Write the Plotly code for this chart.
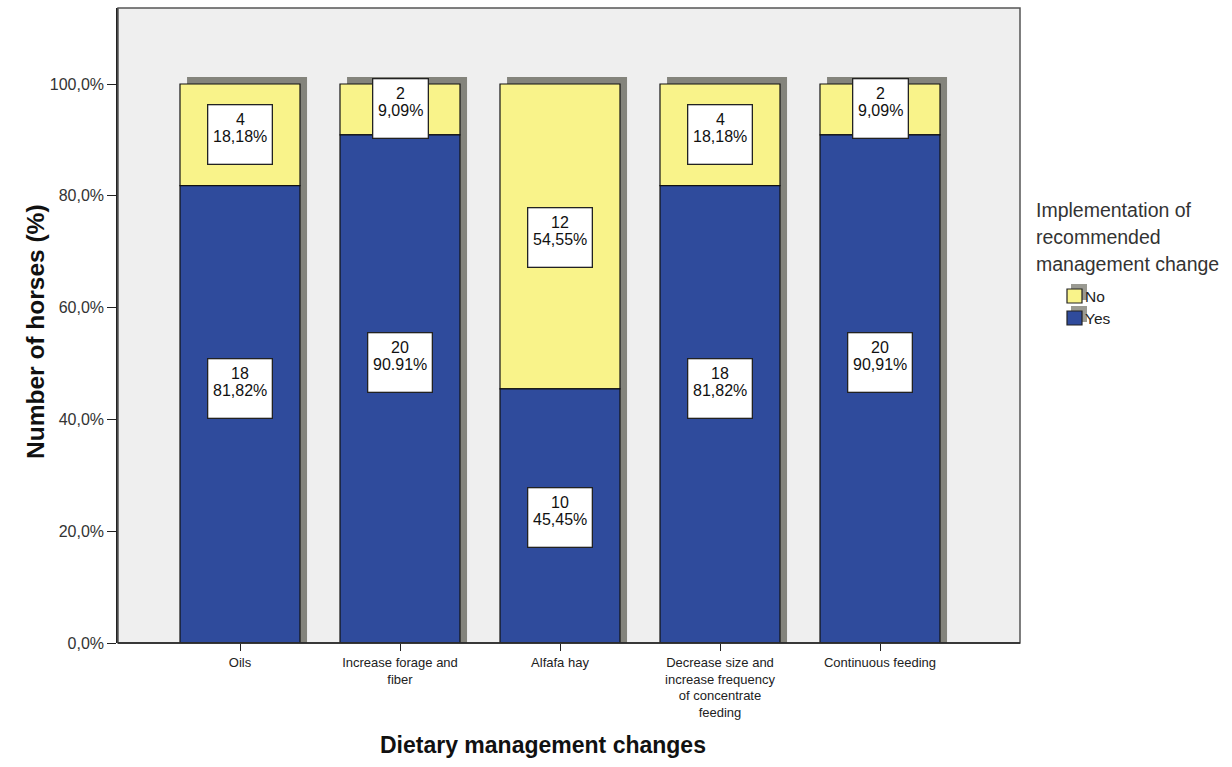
import plotly.graph_objects as go

categories = ["Oils", "Increase forage and<br>fiber", "Alfafa hay",
              "Decrease size and<br>increase frequency<br>of concentrate<br>feeding",
              "Continuous feeding"]
yes_counts = [18, 20, 10, 18, 20]
no_counts = [4, 2, 12, 4, 2]
yes_pct = [81.82, 90.91, 45.45, 81.82, 90.91]
no_pct = [18.18, 9.09, 54.55, 18.18, 9.09]
yes_pct_text = ["81,82%", "90.91%", "45,45%", "81,82%", "90,91%"]
no_pct_text = ["18,18%", "9,09%", "54,55%", "18,18%", "9,09%"]
y_ticks = [0, 20, 40, 60, 80, 100]
y_tick_labels = ["0,0%", "20,0%", "40,0%", "60,0%", "80,0%", "100,0%"]
legend_names = ["No", "Yes"]

# label box centre positions (percent), as placed in the original
yes_label_pos = [45.6, 50.1, 22.4, 45.6, 50.1]
no_label_pos = [90.9, 95.7, 72.6, 90.9, 95.7]

BLUE = "#2f4b9c"
YELLOW = "#f9f38a"
SHADOW = "#84847c"
FONT = "Liberation Sans, Arial, sans-serif"

# plot-area geometry in pixels (for paper-coordinate conversions)
L, R, T, B = 118, 1020, 8, 643
def px(xp):
    return (xp - L) / (R - L)
def py(yp):
    return (B - yp) / (B - T)

x_idx = list(range(len(categories)))
totals = [a + b for a, b in zip(yes_pct, no_pct)]

fig = go.Figure()
fig.add_trace(go.Bar(x=x_idx, y=[t + 1.25 for t in totals], base=0, width=0.75,
                     offset=-0.375 + 0.044, marker=dict(color=SHADOW, line=dict(width=0)),
                     showlegend=False, hoverinfo="skip"))
fig.add_trace(go.Bar(x=x_idx, y=no_pct, base=yes_pct, width=0.75, offset=-0.375, name="No",
                     showlegend=False,
                     marker=dict(color=YELLOW, line=dict(color="#111", width=1.2))))
fig.add_trace(go.Bar(x=x_idx, y=yes_pct, base=0, width=0.75, offset=-0.375, name="Yes",
                     showlegend=False,
                     marker=dict(color=BLUE, line=dict(color="#111", width=1.2))))

ann = []
for i in x_idx:
    for cnt, txt, pos in [(yes_counts[i], yes_pct_text[i], yes_label_pos[i]),
                          (no_counts[i], no_pct_text[i], no_label_pos[i])]:
        w = 54 if len(txt) <= 5 else 63
        ann.append(dict(x=i, y=pos, xref="x", yref="y", showarrow=False, text="&nbsp;",
                        bgcolor="white", bordercolor="#222", borderwidth=1.3, borderpad=0,
                        width=w, height=58))
        ann.append(dict(x=i, y=pos, xref="x", yref="y", showarrow=False, text=str(cnt),
                        yshift=15, font=dict(family=FONT, size=16, color="#111")))
        ann.append(dict(x=i, y=pos, xref="x", yref="y", showarrow=False, text=txt,
                        yshift=-2, font=dict(family=FONT, size=16, color="#111")))

# axis titles
ann.append(dict(x=px(543), y=py(745), xref="paper", yref="paper", showarrow=False,
                text="<b>Dietary management changes</b>", xanchor="center", yanchor="middle",
                font=dict(family=FONT, size=23, color="#111")))
ann.append(dict(x=px(36), y=py(332), xref="paper", yref="paper", showarrow=False,
                text="<b>Number of horses (%)</b>", textangle=-90,
                xanchor="center", yanchor="middle",
                font=dict(family=FONT, size=24.5, color="#111")))

# custom legend
for line, yp in zip(["Implementation of", "recommended", "management change"], [210, 237, 264]):
    ann.append(dict(x=px(1034), y=py(yp), xref="paper", yref="paper", showarrow=False,
                    text=line, xanchor="left", yanchor="middle",
                    font=dict(family=FONT, size=19.5, color="#333")))
shapes = []
for name, col, yp in zip(legend_names, [YELLOW, BLUE], [296, 318]):
    shapes.append(dict(type="rect", xref="paper", yref="paper",
                       x0=px(1071), x1=px(1087), y0=py(yp + 4), y1=py(yp - 12),
                       fillcolor="#9a9a92", line=dict(width=0), layer="above"))
    shapes.append(dict(type="rect", xref="paper", yref="paper",
                       x0=px(1067), x1=px(1082), y0=py(yp + 7), y1=py(yp - 7),
                       fillcolor=col, line=dict(color="#222", width=1.2), layer="above"))
    ann.append(dict(x=px(1083), y=py(yp), xref="paper", yref="paper", showarrow=False,
                    text=name, xanchor="left", yanchor="middle",
                    font=dict(family=FONT, size=15.5, color="#222")))

shapes.append(dict(type="rect", xref="paper", yref="paper", x0=0, y0=0, x1=1, y1=1,
                   line=dict(color="#555", width=1.5), layer="above"))
shapes.append(dict(type="line", xref="paper", yref="paper", x0=0, y0=0, x1=1, y1=0,
                   line=dict(color="#222", width=1.5), layer="above"))

fig.update_layout(
    width=1232, height=767,
    margin=dict(l=L, r=1232 - R, t=T, b=767 - B),
    paper_bgcolor="white", plot_bgcolor="#efefef",
    barmode="overlay", showlegend=False,
    font=dict(family=FONT, size=13, color="#333"),
    annotations=ann, shapes=shapes,
    xaxis=dict(range=[-0.7625, 4.875], tickvals=x_idx, ticktext=categories,
               showgrid=False, zeroline=False, showline=False,
               ticks="outside", ticklen=7, tickcolor="#222",
               tickfont=dict(size=13, color="#222")),
    yaxis=dict(range=[0, 113.6], tickvals=y_ticks, ticktext=y_tick_labels,
               showgrid=False, zeroline=False, showline=True, linecolor="#222", linewidth=1.5,
               ticks="outside", ticklen=9, tickcolor="#222",
               tickfont=dict(size=16, color="#333")),
)

fig.write_html("out.html")
